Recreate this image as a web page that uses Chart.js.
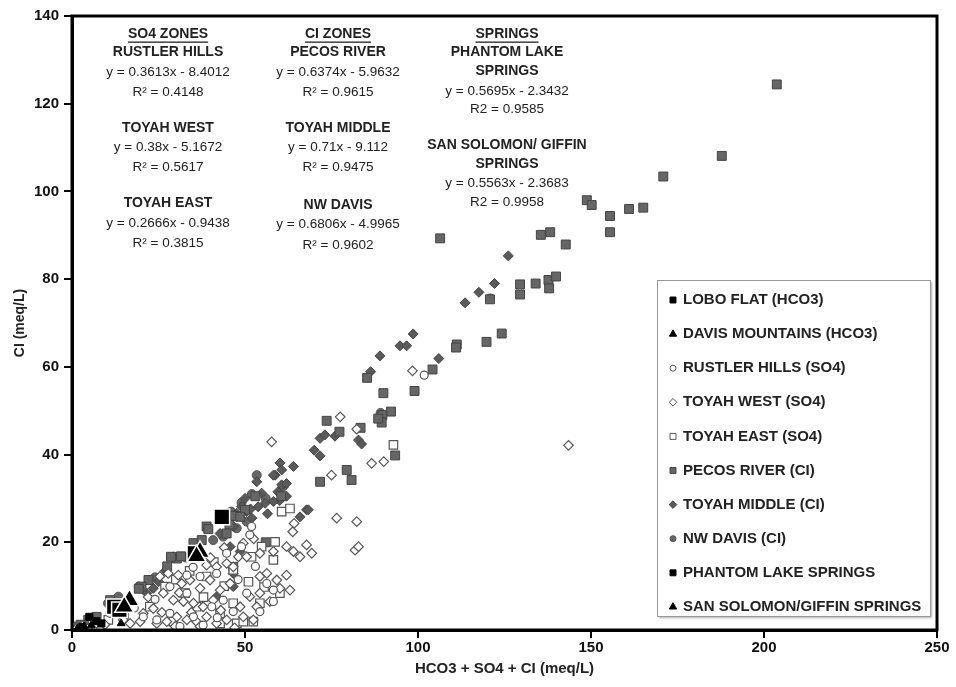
<!DOCTYPE html>
<html>
<head>
<meta charset="utf-8">
<script src="https://cdn.jsdelivr.net/npm/chart.js@4.4.0/dist/chart.umd.min.js"></script>
<style>
html, body { margin: 0; padding: 0; background: #fff; }
</style>
</head>
<body>
<canvas id="chemChart" width="956" height="687"></canvas>
<script>
// axis ticks
const xTicks = [0, 50, 100, 150, 200, 250];
const yTicks = [0, 20, 40, 60, 80, 100, 120, 140];

// series, [HCO3+SO4+Cl, Cl] in meq/L
const loboFlat = [[5.0,3.0],[7.0,2.0],[3.0,0.7],[8.5,1.5]];
const davisMountains = [[14.2,1.5],[3.5,0.8],[5.5,1.0],[1.5,0.3]];
const rustlerHills = [[101.8,58.1],[51.9,23.6],[51.4,21.7],[49.0,19.0],[44.7,17.5],[41.8,12.9],[37.0,12.2],[33.2,12.5],
  [50.5,8.4],[58.2,6.5],[33.2,8.4],[28.3,3.8],[24.5,2.3],[37.9,1.1],[31.2,0.8],[46.6,4.2],[40.4,5.3],[35.1,3.0],
  [20.6,3.0],[11.0,3.8],[4.7,0.4],[54.3,4.2],[43.7,6.8],[28.3,9.9],[56.3,10.6],[58.2,9.1],[18,5],[24,7],[48,11.5],
  [42,2.8],[53,14.5],[35,14.3]];
const toyahWest = [[143.5,42.1],[98.4,59.1],[82.3,45.8],[86.6,38.0],[90.1,38.4],[77.5,48.6],[57.7,42.9],[75.0,35.3],
  [76.5,25.5],[82.3,24.7],[81.8,18.2],[82.8,19.0],[64.2,24.3],[63.8,22.4],[25.4,12.2],[27.8,12.9],[30.7,12.5],
  [31.7,10.6],[34.1,11.4],[38.9,14.8],[41.8,14.4],[44.7,15.2],[48.1,16.7],[49.5,19.8],[54.3,17.5],[58.2,17.9],
  [62.0,19.0],[64.0,17.9],[65.9,16.7],[67.8,19.4],[69.3,17.5],[54.3,12.2],[56.3,12.9],[59.2,11.4],[62.0,12.5],
  [51.4,7.6],[54.3,8.4],[57.2,6.5],[60.1,9.5],[63.0,9.1],[48.6,5.3],[49.5,3.0],[52.4,2.3],[44.7,2.3],[41.8,1.5],
  [38.9,3.0],[36.0,1.9],[33.2,2.3],[30.3,3.0],[27.4,1.9],[24.5,1.5],[19.7,1.9],[16.8,1.5],[29.8,0.8],[37.0,0.8],
  [40.8,6.8],[37.9,5.3],[35.1,6.1],[32.2,6.5],[29.3,6.8],[42.8,9.1],[45.7,10.6],[39.9,11.4],[37.0,9.5],[26.4,8.4],
  [23.5,4.9],[20.6,3.8],[46.6,14.4],[50.5,16.7],[53.4,5.3],[14.8,2.3],[7.1,1.5],[1.5,0.5],[3,1],[9.5,1.2],[26,4],
  [34.5,4],[43,4.5],[47,0.5],[22,7.5],[52.5,20.8],[44,18.8],[40,16.5],[31,8.5]];
const toyahEast = [[92.9,42.2],[60.6,27.0],[63.0,27.7],[58.7,20.1],[54.8,19.0],[51.9,16.7],[58.2,16.0],[60.1,8.4],
  [54.3,6.1],[46.6,13.7],[38.9,12.2],[26.9,9.9],[22.5,5.3],[32.7,8.4],[36.0,5.3],[47.6,1.5],[49.5,1.9],[52.4,1.9],
  [42.8,1.5],[42.8,3.8],[29.3,1.9],[10.5,2.3],[46.6,6.1],[41,15.5],[34,13.5],[30,11.5],[51,11],[55.5,9.8],[44,10],
  [38,7.5],[15,3.5],[6,1.8]];
const pecosRiver = [[203.7,124.4],[187.8,108.1],[170.9,103.4],[148.8,98.0],[150.2,96.9],[155.5,94.4],[155.5,90.7],
  [161.0,96.0],[165.1,96.3],[106.4,89.3],[135.5,90.1],[138.2,90.7],[142.7,87.9],[129.5,78.8],[129.5,76.5],[134.0,79.0],
  [137.7,79.8],[139.9,80.6],[137.9,77.9],[120.8,75.4],[111.2,65.1],[111.0,64.4],[119.8,65.7],[124.2,67.6],[104.2,59.4],
  [85.3,57.5],[90.0,54.0],[99.0,54.5],[92.2,49.8],[89.7,49.0],[89.5,47.3],[83.4,46.1],[93.4,39.8],[77.3,45.2],
  [73.6,47.7],[79.4,36.5],[80.8,34.2],[71.7,33.8],[60.5,30.5],[47,26],[45.5,24],[38.9,23.6],[39.4,23.0],[35.1,19.8],
  [37.5,20.5],[30.3,16.3],[31.5,16.8],[28.6,16.7],[27.5,14.5],[22.1,11.4],[20.1,9.9],[19.3,9.4],[11.0,6.8],[7.1,3.0],
  [4.7,2.3],[0.8,0.8],[2.5,1.2],[46.6,14.4],[50.0,27.4],[48.6,25.8],[44.7,22.0],[56,20],[53,30.5],[88.5,48.2]];
const toyahMiddle = [[126.1,85.3],[122.1,79.0],[117.6,77.0],[113.6,74.6],[98.6,67.5],[94.8,64.8],[96.7,64.8],
  [89.0,62.5],[86.3,58.9],[106.0,61.9],[82.8,43.3],[83.7,42.4],[71.7,43.7],[73.1,44.5],[76.0,44.2],[70.0,41.0],
  [71.7,39.7],[60.1,38.1],[64.0,37.3],[53.4,33.8],[58.7,35.3],[60.6,36.5],[59.5,31.5],[61,32.5],[60,29.5],[62,30.5],
  [67.8,27.4],[65.9,25.8],[58.2,35.3],[54.8,31.2],[58.2,29.3],[60.6,33.1],[62.0,33.4],[55.8,28.9],[53.8,28.1],
  [50.5,27.0],[47.6,26.6],[49.0,28.1],[45.7,25.1],[42.8,22.0],[45.7,19.0],[48.6,17.9],[68.3,27.4],[46.6,12.9],
  [46.6,9.9],[41.8,7.6],[21.6,8.4],[23.5,9.5],[51.6,27.6],[46.6,23.6],[52,25.5],[56.5,26.5],[50,30],[25,11],[17,6.5],
  [27,13.5]];
const nwDavis = [[53.4,35.3],[89.2,49.5],[120.8,75.6],[43.7,21.3],[40.8,20.5],[29.3,16.7],[19.3,9.9],[10.4,6.1],
  [47.6,23.2],[50.5,24.7],[13.4,7.6],[49,29],[46,27],[52,31],[56,30],[33,16.5],[24,12],[5,2.5]];
const phantomLake = [[43.3,25.8],[12.2,5.3],[13.7,4.6],[35.5,17.5]];
const sanSolomon = [[37.0,17.8],[36.0,16.8],[16.6,6.8],[15.1,5.3]];

function pts(arr) { return arr.map(p => ({x: p[0], y: p[1]})); }

const datasets = [
  {label: 'LOBO FLAT (HCO3)', data: pts(loboFlat), pointStyle: 'rect', pointRadius: 5,
   backgroundColor: '#000', borderColor: '#000', borderWidth: 1, order: 2},
  {label: 'DAVIS MOUNTAINS (HCO3)', data: pts(davisMountains), pointStyle: 'triangle', pointRadius: 4.5,
   backgroundColor: '#000', borderColor: '#000', borderWidth: 1, order: 2},
  {label: 'RUSTLER HILLS (SO4)', data: pts(rustlerHills), pointStyle: 'circle', pointRadius: 4,
   backgroundColor: '#fff', borderColor: '#555', borderWidth: 1.2, order: 3},
  {label: 'TOYAH WEST (SO4)', data: pts(toyahWest), pointStyle: 'rectRot', pointRadius: 4.8,
   backgroundColor: '#fff', borderColor: '#555', borderWidth: 1.2, order: 3},
  {label: 'TOYAH EAST (SO4)', data: pts(toyahEast), pointStyle: 'rect', pointRadius: 6,
   backgroundColor: '#fff', borderColor: '#555', borderWidth: 1.2, order: 3},
  {label: 'PECOS RIVER (CI)', data: pts(pecosRiver), pointStyle: 'rect', pointRadius: 6.3,
   backgroundColor: '#666', borderColor: '#444', borderWidth: 1, order: 4},
  {label: 'TOYAH MIDDLE (CI)', data: pts(toyahMiddle), pointStyle: 'rectRot', pointRadius: 5,
   backgroundColor: '#5a5a5a', borderColor: '#444', borderWidth: 1, order: 4},
  {label: 'NW DAVIS (CI)', data: pts(nwDavis), pointStyle: 'circle', pointRadius: 4.5,
   backgroundColor: '#666', borderColor: '#555', borderWidth: 1, order: 4},
  {label: 'PHANTOM LAKE SPRINGS', data: pts(phantomLake), pointStyle: 'rect', pointRadius: 11,
   backgroundColor: '#000', borderColor: '#fff', borderWidth: 1.5, order: 1},
  {label: 'SAN SOLOMON/GIFFIN SPRINGS', data: pts(sanSolomon), pointStyle: 'triangle', pointRadius: 11,
   backgroundColor: '#000', borderColor: '#fff', borderWidth: 1.5, order: 0}
];

const col1 = [['SO4 ZONES', 34, 'u'], ['RUSTLER HILLS', 52, 'b'], ['y = 0.3613x - 8.4012', 72, ''], ['R² = 0.4148', 92, ''],
  ['TOYAH WEST', 128, 'b'], ['y = 0.38x - 5.1672', 147, ''], ['R² = 0.5617', 167, ''],
  ['TOYAH EAST', 203, 'b'], ['y = 0.2666x - 0.9438', 223, ''], ['R² = 0.3815', 243, '']];
const col2 = [['CI ZONES', 34, 'u'], ['PECOS RIVER', 52, 'b'], ['y = 0.6374x - 5.9632', 72, ''], ['R² = 0.9615', 92, ''],
  ['TOYAH MIDDLE', 128, 'b'], ['y = 0.71x - 9.112', 147, ''], ['R² = 0.9475', 167, ''],
  ['NW DAVIS', 205, 'b'], ['y = 0.6806x - 4.9965', 224, ''], ['R² = 0.9602', 245, '']];
const col3 = [['SPRINGS', 34, 'u'], ['PHANTOM LAKE', 52, 'b'], ['SPRINGS', 71, 'b'], ['y = 0.5695x - 2.3432', 91, ''],
  ['R2 = 0.9585', 109, ''], ['SAN SOLOMON/ GIFFIN', 145, 'b'], ['SPRINGS', 164, 'b'],
  ['y = 0.5563x - 2.3683', 183, ''], ['R2 = 0.9958', 202, '']];

const FONT = '"Liberation Sans", Arial, Helvetica, sans-serif';

const decor = {
  id: 'decor',
  afterDatasetsDraw(chart) {
    const ctx = chart.ctx, a = chart.chartArea;
    ctx.save();
    ctx.strokeStyle = '#000';
    ctx.lineWidth = 3;
    ctx.strokeRect(a.left, a.top, a.right - a.left, a.bottom - a.top);
    ctx.restore();
  },
  afterDraw(chart) {
    const ctx = chart.ctx;
    ctx.save();
    ctx.fillStyle = '#222';
    ctx.textAlign = 'center';
    ctx.textBaseline = 'middle';
    [[168, col1], [338, col2], [507, col3]].forEach(([cx, lines]) => {
      lines.forEach(([txt, y, st]) => {
        ctx.font = (st ? 'bold 14px ' : '13.5px ') + FONT;
        ctx.fillText(txt, cx, y);
        if (st === 'u') {
          const w = ctx.measureText(txt).width;
          ctx.fillRect(cx - w / 2, y + 7.5, w, 1.3);
        }
      });
    });
    ctx.restore();

    // legend box
    const lx = 657, ly = 280, lw = 273, lh = 336;
    ctx.save();
    ctx.shadowColor = 'rgba(0,0,0,0.3)';
    ctx.shadowOffsetX = 2;
    ctx.shadowOffsetY = 2;
    ctx.shadowBlur = 2;
    ctx.fillStyle = '#fff';
    ctx.fillRect(lx, ly, lw, lh);
    ctx.restore();
    ctx.save();
    ctx.strokeStyle = '#999';
    ctx.lineWidth = 1;
    ctx.strokeRect(lx + 0.5, ly + 0.5, lw, lh);
    chart.data.datasets.forEach((ds, i) => {
      const cy = 300 + i * 34.1;
      ctx.fillStyle = ds.backgroundColor;
      ctx.strokeStyle = ds.borderColor === '#fff' ? '#000' : ds.borderColor;
      ctx.lineWidth = 1;
      const r = ds.pointStyle === 'circle' ? 3 : (ds.pointStyle === 'rectRot' ? 3.8 : 4.2);
      Chart.helpers.drawPoint(ctx, {pointStyle: ds.pointStyle, radius: r, borderWidth: 1, rotation: 0}, 673, cy);
      ctx.fillStyle = '#222';
      ctx.font = 'bold 15px ' + FONT;
      ctx.textAlign = 'left';
      ctx.textBaseline = 'middle';
      ctx.fillText(ds.label, 683, cy);
    });
    ctx.restore();
  }
};

new Chart(document.getElementById('chemChart'), {
  type: 'scatter',
  data: {datasets: datasets},
  options: {
    responsive: false,
    animation: false,
    devicePixelRatio: 1,
    layout: {padding: {top: 16, right: 19, left: 0, bottom: 0}},
    plugins: {legend: {display: false}, tooltip: {enabled: false}},
    scales: {
      x: {
        type: 'linear', min: 0, max: 250,
        afterBuildTicks: s => { s.ticks = xTicks.map(v => ({value: v})); },
        afterFit: s => { s.height = 57; },
        grid: {drawOnChartArea: false, drawTicks: true, tickLength: 8, color: '#000', lineWidth: 2},
        border: {display: true, color: '#000', width: 3},
        ticks: {color: '#111', font: {family: FONT, size: 15, weight: 'bold'}, padding: 1, maxRotation: 0},
        title: {display: true, text: 'HCO3 + SO4 + CI (meq/L)', color: '#222',
                font: {family: FONT, size: 15, weight: 'bold'}, padding: {top: 0, bottom: 9}}
      },
      y: {
        type: 'linear', min: 0, max: 140,
        afterBuildTicks: s => { s.ticks = yTicks.map(v => ({value: v})); },
        afterFit: s => { s.width = 72; },
        grid: {drawOnChartArea: false, drawTicks: true, tickLength: 8, color: '#000', lineWidth: 2},
        border: {display: true, color: '#000', width: 3},
        ticks: {color: '#111', font: {family: FONT, size: 15, weight: 'bold'}, padding: 5},
        title: {display: true, text: 'CI (meq/L)', color: '#222',
                font: {family: FONT, size: 14, weight: 'bold'}, padding: {top: 12, bottom: 4}}
      }
    }
  },
  plugins: [decor]
});
</script>
</body>
</html>
